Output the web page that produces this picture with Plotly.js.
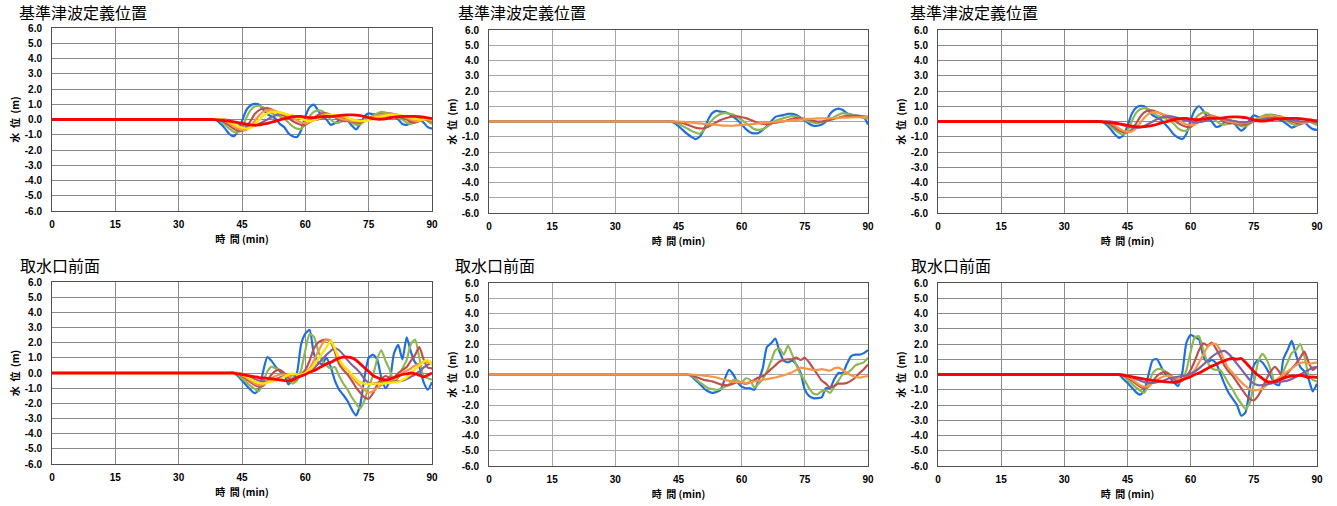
<!DOCTYPE html>
<html>
<head>
<meta charset="utf-8">
<script src="https://cdn.plot.ly/plotly-3.0.1.min.js"></script>
<style>html,body{margin:0;padding:0;background:#fff;}#chart{width:1337px;height:506px;}</style>
</head>
<body>
<div id="chart"></div>
<script>
// ---------- labels ----------
const titleTop = "基準津波定義位置";
const titleBottom = "取水口前面";
const xTitle = "時\u00a0\u00a0間\u00a0(min)";
const yTitle = "水\u00a0\u00a0位\u00a0\u00a0(m)";
const xTickVals = [0, 15, 30, 45, 60, 75, 90];
const xTickText = ["0", "15", "30", "45", "60", "75", "90"];
const yTickVals = [-6, -5, -4, -3, -2, -1, 0, 1, 2, 3, 4, 5, 6];
const yTickText = ["-6.0", "-5.0", "-4.0", "-3.0", "-2.0", "-1.0", "0.0", "1.0", "2.0", "3.0", "4.0", "5.0", "6.0"];

// ---------- panel 1 (top-left) ----------
const t1 = [0, 38, 39,
  40, 41, 42, 43, 44, 45, 46, 47, 48, 49,
  50, 51, 52, 53, 54, 55, 56, 57, 58, 59,
  60, 61, 62, 63, 64, 65, 66, 67, 68, 69,
  70, 71, 72, 73, 74, 75, 76, 77, 78, 79,
  80, 81, 82, 83, 84, 85, 86, 87, 88, 89,
  90];
const p1Blue = [0, 0, -0.05,
  -0.3, -0.6, -0.95, -1.1, -0.8, -0.1, 0.6, 0.92, 1.02, 0.98,
  0.65, 0.35, 0.2, 0.05, -0.3, -0.5, -0.9, -1.1, -1.15, -0.7,
  0.2, 0.8, 0.98, 0.6, 0.2, 0.0, -0.35, -0.25, -0.05, 0.05,
  -0.05, -0.4, -0.65, -0.3, 0.2, 0.4, 0.35, 0.35, 0.45, 0.4,
  0.3, 0.2, 0.0, -0.3, -0.35, -0.2, 0.0, 0.05, -0.2, -0.5,
  -0.6];
const p1Green = [0, 0, 0,
  -0.1, -0.35, -0.6, -0.8, -0.85, -0.55, 0.1, 0.6, 0.85, 0.9,
  0.8, 0.6, 0.4, 0.3, 0.2, 0.05, -0.2, -0.45, -0.6, -0.6,
  -0.3, 0.2, 0.5, 0.6, 0.55, 0.3, 0.0, -0.2, -0.2, -0.1,
  -0.1, -0.2, -0.35, -0.3, -0.1, 0.1, 0.25, 0.4, 0.5, 0.45,
  0.35, 0.2, 0.1, 0.0, -0.2, -0.3, -0.15, 0.0, 0.05, -0.1,
  -0.3];
const p1Brown = [0, 0, 0,
  -0.05, -0.2, -0.4, -0.6, -0.72, -0.75, -0.5, -0.1, 0.35, 0.6,
  0.72, 0.75, 0.65, 0.5, 0.35, 0.25, 0.1, -0.1, -0.25, -0.35,
  -0.35, -0.15, 0.1, 0.3, 0.4, 0.4, 0.3, 0.15, 0.0, -0.1,
  -0.1, -0.15, -0.2, -0.2, -0.1, 0.0, 0.1, 0.2, 0.3, 0.35,
  0.4, 0.35, 0.25, 0.1, 0.0, -0.15, -0.2, -0.1, 0.0, -0.05,
  -0.15];
const p1Purple = [0, 0, 0,
  0, 0, -0.05, -0.15, -0.25, -0.35, -0.4, -0.42, -0.4, -0.3,
  -0.15, 0.0, 0.15, 0.28, 0.35, 0.35, 0.3, 0.25, 0.15, 0.05,
  0.0, -0.05, -0.05, 0.0, 0.1, 0.15, 0.2, 0.2, 0.15, 0.1,
  0.05, 0.0, -0.05, -0.05, 0.0, 0.05, 0.1, 0.15, 0.2, 0.25,
  0.25, 0.25, 0.2, 0.15, 0.1, 0.05, 0.0, 0.0, 0.0, 0.0,
  -0.05];
const p1Orange = [0, 0, 0,
  0, -0.1, -0.25, -0.45, -0.6, -0.7, -0.68, -0.45, -0.1, 0.25,
  0.5, 0.6, 0.62, 0.55, 0.45, 0.35, 0.25, 0.1, -0.05, -0.2,
  -0.25, -0.2, 0.0, 0.15, 0.3, 0.35, 0.3, 0.2, 0.1, 0.0,
  -0.05, -0.1, -0.1, -0.1, -0.05, 0.05, 0.15, 0.25, 0.3, 0.35,
  0.35, 0.35, 0.3, 0.2, 0.1, 0.0, -0.1, -0.1, 0.0, 0.0,
  -0.1];
const p1Yellow = [0, 0, 0,
  0, -0.05, -0.15, -0.3, -0.45, -0.55, -0.6, -0.55, -0.35, -0.05,
  0.25, 0.4, 0.5, 0.5, 0.45, 0.4, 0.3, 0.25, 0.15, 0.05,
  -0.05, -0.1, -0.05, 0.05, 0.15, 0.25, 0.3, 0.3, 0.25, 0.2,
  0.1, 0.0, -0.05, -0.1, -0.1, -0.05, 0.05, 0.15, 0.2, 0.25,
  0.3, 0.3, 0.3, 0.25, 0.2, 0.1, 0.05, 0.0, 0.0, 0.05,
  0.0];
const p1Red = [0, 0, -0.02,
  -0.05, -0.08, -0.1, -0.15, -0.2, -0.25, -0.3, -0.35, -0.37, -0.35,
  -0.3, -0.25, -0.18, -0.1, -0.02, 0.05, 0.12, 0.18, 0.2, 0.2,
  0.15, 0.12, 0.12, 0.15, 0.18, 0.2, 0.2, 0.22, 0.25, 0.28,
  0.3, 0.3, 0.28, 0.25, 0.2, 0.12, 0.05, 0.02, 0.02, 0.05,
  0.1, 0.15, 0.18, 0.2, 0.2, 0.2, 0.2, 0.18, 0.15, 0.1,
  0.05];

// ---------- panel 2 (top-middle) ----------
const t2 = [0, 42, 43, 44, 45, 46, 47, 48, 49,
  50, 51, 52, 53, 54, 55, 56, 57, 58, 59,
  60, 61, 62, 63, 64, 65, 66, 67, 68, 69,
  70, 71, 72, 73, 74, 75, 76, 77, 78, 79,
  80, 81, 82, 83, 84, 85, 86, 87, 88, 89,
  90];
const p2Blue = [0, 0, 0, -0.1, -0.3, -0.55, -0.8, -1.0, -1.15,
  -1.0, -0.55, 0.1, 0.55, 0.7, 0.65, 0.62, 0.5, 0.3, 0.1,
  -0.2, -0.5, -0.7, -0.78, -0.75, -0.55, -0.3, 0.0, 0.3, 0.38,
  0.42, 0.5, 0.5, 0.42, 0.25, 0.05, -0.15, -0.28, -0.28, -0.2,
  0.0, 0.5, 0.75, 0.85, 0.75, 0.55, 0.45, 0.4, 0.38, 0.3,
  -0.2];
const p2Green = [0, 0, 0, -0.05, -0.15, -0.3, -0.45, -0.6, -0.72,
  -0.8, -0.55, -0.2, 0.1, 0.33, 0.5, 0.55, 0.52, 0.45, 0.3,
  0.1, -0.1, -0.3, -0.5, -0.55, -0.5, -0.35, -0.15, 0.05, 0.15,
  0.22, 0.3, 0.37, 0.32, 0.22, 0.1, 0.0, -0.08, -0.1, -0.05,
  0.05, 0.15, 0.3, 0.45, 0.55, 0.5, 0.45, 0.4, 0.3, 0.22,
  0.2];
const p2Brown = [0, 0, 0, 0, -0.05, -0.1, -0.2, -0.3, -0.4,
  -0.45, -0.45, -0.35, -0.2, -0.05, 0.1, 0.2, 0.28, 0.33, 0.33,
  0.28, 0.22, 0.12, 0.0, -0.1, -0.15, -0.15, -0.12, -0.08, -0.02,
  0.0, 0.1, 0.18, 0.22, 0.2, 0.17, 0.12, 0.05, 0.0, 0.0,
  0.05, 0.1, 0.18, 0.25, 0.33, 0.35, 0.37, 0.37, 0.35, 0.33,
  0.3];
const p2Orange = [0, 0, 0, 0, 0, -0.03, -0.05, -0.08, -0.1,
  -0.12, -0.15, -0.17, -0.2, -0.22, -0.25, -0.27, -0.28, -0.28, -0.25,
  -0.22, -0.2, -0.18, -0.15, -0.12, -0.1, -0.08, -0.05, -0.03, 0.0,
  0.02, 0.05, 0.08, 0.1, 0.12, 0.15, 0.17, 0.18, 0.2, 0.2,
  0.2, 0.22, 0.22, 0.23, 0.25, 0.25, 0.27, 0.28, 0.28, 0.3,
  0.3];

// ---------- panel 3 (top-right) ----------
const t3 = [0, 38, 39,
  40, 41, 42, 43, 44, 45, 46, 47, 48, 49,
  50, 51, 52, 53, 54, 55, 56, 57, 58, 59,
  60, 61, 62, 63, 64, 65, 66, 67, 68, 69,
  70, 71, 72, 73, 74, 75, 76, 77, 78, 79,
  80, 81, 82, 83, 84, 85, 86, 87, 88, 89,
  90];
const p3Blue = [0, 0, -0.02,
  -0.2, -0.5, -0.85, -1.08, -0.9, -0.3, 0.5, 0.9, 1.02, 1.0,
  0.7, 0.4, 0.25, 0.1, -0.2, -0.5, -0.85, -1.05, -1.15, -0.8,
  0.1, 0.75, 1.0, 0.7, 0.3, 0.0, -0.35, -0.3, -0.05, 0.05,
  0.0, -0.35, -0.6, -0.4, 0.1, 0.4, 0.3, 0.3, 0.4, 0.4,
  0.3, 0.15, 0.0, -0.2, -0.4, -0.3, -0.1, -0.05, -0.3, -0.5,
  -0.55];
const p3Green = [0, 0, 0,
  -0.08, -0.3, -0.55, -0.75, -0.85, -0.6, 0.0, 0.55, 0.8, 0.88,
  0.8, 0.6, 0.4, 0.3, 0.2, 0.05, -0.15, -0.45, -0.6, -0.6,
  -0.35, 0.15, 0.45, 0.6, 0.55, 0.3, 0.05, -0.15, -0.2, -0.15,
  -0.1, -0.2, -0.3, -0.3, -0.15, 0.05, 0.2, 0.35, 0.45, 0.45,
  0.4, 0.3, 0.15, 0.0, -0.15, -0.25, -0.2, -0.05, 0.0, -0.1,
  -0.25];
const p3Brown = [0, 0, 0,
  -0.05, -0.2, -0.4, -0.6, -0.7, -0.72, -0.55, -0.15, 0.3, 0.6,
  0.72, 0.72, 0.62, 0.5, 0.35, 0.25, 0.1, -0.1, -0.25, -0.35,
  -0.35, -0.15, 0.1, 0.28, 0.38, 0.38, 0.3, 0.15, 0.0, -0.1,
  -0.1, -0.15, -0.2, -0.2, -0.1, 0.0, 0.1, 0.2, 0.3, 0.35,
  0.38, 0.35, 0.25, 0.1, 0.0, -0.1, -0.15, -0.1, 0.0, -0.05,
  -0.1];
const p3Orange = [0, 0, 0,
  0, -0.1, -0.25, -0.45, -0.6, -0.68, -0.65, -0.45, -0.1, 0.25,
  0.5, 0.6, 0.6, 0.52, 0.42, 0.35, 0.25, 0.1, -0.05, -0.2,
  -0.25, -0.2, 0.0, 0.15, 0.28, 0.33, 0.3, 0.2, 0.1, 0.0,
  -0.05, -0.1, -0.12, -0.1, -0.05, 0.05, 0.15, 0.25, 0.3, 0.35,
  0.35, 0.32, 0.28, 0.2, 0.1, 0.0, -0.08, -0.1, -0.05, 0.0,
  -0.1];
const p3Purple = [0, 0, 0,
  0, 0, -0.05, -0.15, -0.25, -0.32, -0.38, -0.4, -0.38, -0.3,
  -0.15, 0.0, 0.15, 0.25, 0.32, 0.33, 0.3, 0.22, 0.12, 0.05,
  0.0, -0.05, -0.05, 0.0, 0.08, 0.15, 0.18, 0.2, 0.15, 0.1,
  0.05, 0.0, -0.05, -0.05, 0.0, 0.05, 0.1, 0.15, 0.2, 0.22,
  0.25, 0.22, 0.2, 0.15, 0.1, 0.05, 0.0, 0.0, 0.0, 0.0,
  -0.05];
const p3Red = [0, 0, -0.02,
  -0.05, -0.08, -0.1, -0.15, -0.2, -0.25, -0.3, -0.33, -0.35, -0.33,
  -0.3, -0.25, -0.18, -0.1, -0.02, 0.05, 0.12, 0.18, 0.2, 0.2,
  0.15, 0.12, 0.12, 0.15, 0.2, 0.22, 0.22, 0.22, 0.25, 0.28,
  0.3, 0.3, 0.28, 0.25, 0.18, 0.1, 0.05, 0.02, 0.05, 0.1,
  0.15, 0.15, 0.18, 0.2, 0.2, 0.2, 0.18, 0.15, 0.12, 0.08,
  0.05];

// ---------- panel 4 (bottom-left) ----------
const t4 = [0, 42, 43, 44, 45, 46, 47, 48, 49,
  50, 51, 52, 53, 54, 55, 56, 57, 58, 59,
  60, 61, 62, 63, 64, 65, 66, 67, 68, 69,
  70, 71, 72, 73, 74, 75, 76, 77, 78, 79,
  80, 81, 82, 83, 84, 85, 86, 87, 88, 89,
  90];
const p4Blue = [0, 0, 0, -0.2, -0.5, -0.8, -1.1, -1.33, -1.1,
  0.1, 1.05, 0.8, 0.4, 0.1, -0.1, -0.75, -0.4, 0.0, 1.9,
  2.6, 2.85, 1.3, 0.7, 0.6, 1.0, 0.4, -0.5, -1.1, -1.45,
  -1.85, -2.4, -2.8, -2.1, -0.3, 1.0, 1.2, 0.9, -0.3, -1.0,
  -0.5, 1.3, 1.85, 0.9, 2.35, 1.4, 0.7, 0.4, -0.6, -1.1,
  -0.6];
const p4Green = [0, 0, 0, -0.1, -0.35, -0.6, -0.85, -1.05, -1.2,
  -0.6, 0.1, 0.4, 0.3, 0.2, 0.0, -0.4, -0.7, -0.5, 0.2,
  1.5, 2.55, 2.4, 1.5, 0.8, 0.5, 0.3, 0.4, -0.2, -0.7,
  -1.1, -1.6, -2.0, -2.35, -1.8, -0.9, -0.2, 0.9, 1.5, 0.8,
  0.2, -0.6, -0.3, 0.3, 0.85, 1.9, 2.2, 1.0, -0.2, -0.35,
  -0.45];
const p4Brown = [0, 0, 0, -0.05, -0.2, -0.4, -0.6, -0.8, -0.9,
  -0.85, -0.5, -0.1, 0.15, 0.2, 0.0, -0.3, -0.5, -0.4, -0.1,
  0.2, 0.8, 1.6, 2.0, 2.15, 2.2, 2.05, 1.4, 0.6, 0.2,
  -0.1, -0.5, -0.95, -1.3, -1.6, -1.7, -1.35, -0.8, -0.4, -0.2,
  -0.3, -0.3, 0.0, 0.2, 0.4, 0.8, 1.2, 1.7, 0.9, 0.35,
  0.3];
const p4Purple = [0, 0, 0, 0, -0.05, -0.15, -0.3, -0.4, -0.5,
  -0.55, -0.55, -0.5, -0.4, -0.3, -0.2, -0.15, -0.1, -0.1, -0.1,
  0.0, 0.1, 0.3, 0.6, 0.9, 1.2, 1.45, 1.65, 1.5, 1.2,
  0.85, 0.55, 0.3, 0.0, -0.4, -0.65, -0.7, -0.65, -0.6, -0.55,
  -0.55, -0.55, -0.55, -0.5, -0.4, -0.25, -0.1, 0.1, 0.35, 0.55,
  0.65];
const p4Orange = [0, 0, 0, -0.05, -0.15, -0.3, -0.5, -0.7, -0.8,
  -0.75, -0.55, -0.35, -0.2, -0.1, -0.1, -0.2, -0.3, -0.35, -0.2,
  0.0, 0.3, 0.8, 1.4, 1.9, 2.2, 2.15, 1.6, 0.9, 0.4,
  0.2, -0.2, -0.6, -0.85, -1.1, -1.3, -1.2, -1.0, -0.8, -0.6,
  -0.5, -0.4, -0.2, 0.0, 0.15, 0.3, 0.5, 0.6, 0.7, 0.75,
  0.6];
const p4Yellow = [0, 0, 0, -0.03, -0.1, -0.25, -0.4, -0.55, -0.65,
  -0.7, -0.65, -0.55, -0.5, -0.4, -0.25, -0.1, -0.05, -0.1, -0.1,
  0.0, 0.2, 0.5, 0.9, 1.3, 1.7, 2.1, 1.6, 0.9, 0.5,
  0.2, -0.1, -0.4, -0.6, -0.7, -0.72, -0.7, -0.7, -0.7, -0.68,
  -0.65, -0.62, -0.6, -0.45, -0.3, 0.0, 0.25, 0.5, 0.75, 0.85,
  0.5];
const p4Red = [0, 0, 0, -0.05, -0.1, -0.15, -0.2, -0.25, -0.3,
  -0.33, -0.35, -0.38, -0.42, -0.46, -0.5, -0.52, -0.45, -0.3, -0.2,
  -0.1, 0.05, 0.15, 0.3, 0.45, 0.6, 0.7, 0.85, 0.98, 1.05,
  1.05, 1.0, 0.85, 0.6, 0.35, 0.1, -0.15, -0.3, -0.4, -0.45,
  -0.4, -0.3, -0.2, -0.1, -0.05, 0.0, -0.05, -0.15, -0.25, -0.15,
  0.0];

// ---------- panel 5 (bottom-middle) ----------
const t5 = [0, 46, 47, 48, 49,
  50, 51, 52, 53, 54, 55, 56, 57, 58, 59,
  60, 61, 62, 63, 64, 65, 66, 67, 68, 69,
  70, 71, 72, 73, 74, 75, 76, 77, 78, 79,
  80, 81, 82, 83, 84, 85, 86, 87, 88, 89,
  90];
const p5Blue = [0, 0, 0, -0.1, -0.35,
  -0.6, -0.9, -1.1, -1.2, -1.15, -1.0, -0.3, 0.3, 0.0, -0.5,
  -0.8, -0.9, -0.9, -1.0, -0.4, 0.4, 1.8, 2.05, 2.35, 1.5,
  0.9, 0.8, 0.9, 0.65, 0.1, -1.0, -1.4, -1.55, -1.55, -1.5,
  -0.9, -0.9, -0.3, 0.1, 0.1, 0.7, 1.2, 1.3, 1.3, 1.4,
  1.6];
const p5Green = [0, 0, 0, -0.05, -0.25,
  -0.5, -0.7, -0.88, -0.95, -1.0, -0.95, -0.8, -0.65, -0.35, -0.4,
  -0.5, -0.25, -0.35, -0.85, -0.6, -0.3, 0.2, 0.9, 1.6, 1.7,
  1.3, 1.9, 1.3, 0.6, 0.0, -0.4, -0.9, -1.25, -1.3, -1.1,
  -1.05, -1.2, -0.8, -0.4, 0.0, 0.1, 0.3, 0.6, 0.7, 0.8,
  1.1];
const p5Brown = [0, 0, 0, -0.05, -0.15,
  -0.25, -0.35, -0.4, -0.45, -0.55, -0.65, -0.7, -0.7, -0.6, -0.5,
  -0.55, -0.6, -0.5, -0.35, -0.2, -0.1, 0.1, 0.35, 0.6, 0.85,
  0.95, 1.0, 1.0, 1.1, 0.95, 1.1, 0.8, 0.4, 0.0, -0.4,
  -0.6, -0.85, -0.75, -0.6, -0.6, -0.55, -0.4, -0.2, 0.1, 0.35,
  0.65];
const p5Orange = [0, 0, 0, 0, -0.02,
  -0.05, -0.08, -0.1, -0.15, -0.2, -0.28, -0.35, -0.42, -0.48, -0.5,
  -0.52, -0.55, -0.5, -0.45, -0.4, -0.35, -0.3, -0.25, -0.2, -0.12,
  -0.05, 0.05, 0.15, 0.3, 0.45, 0.4, 0.35, 0.3, 0.3, 0.35,
  0.3, 0.25, 0.4, 0.45, 0.3, 0.1, -0.05, -0.15, -0.2, -0.15,
  -0.1];

// ---------- panel 6 (bottom-right) ----------
const t6 = [0, 42, 43, 44, 45, 46, 47, 48, 49,
  50, 51, 52, 53, 54, 55, 56, 57, 58, 59,
  60, 61, 62, 63, 64, 65, 66, 67, 68, 69,
  70, 71, 72, 73, 74, 75, 76, 77, 78, 79,
  80, 81, 82, 83, 84, 85, 86, 87, 88, 89,
  90];
const p6Blue = [0, 0, 0, -0.3, -0.55, -0.85, -1.15, -1.32, -1.05,
  0.0, 0.95, 1.0, 0.5, 0.05, -0.2, -0.5, -0.75, 0.1, 2.1,
  2.6, 2.45, 2.3, 1.2, 0.8, 0.95, 0.75, 0.1, -0.6, -1.2,
  -1.6, -2.0, -2.7, -2.5, -1.0, 0.6, 0.95, 0.8, 0.4, -0.1,
  -0.6, -0.7, 1.0, 1.6, 2.2, 1.3, 0.5, 0.2, -0.3, -1.1,
  -0.6];
const p6Green = [0, 0, 0, -0.1, -0.35, -0.6, -0.85, -1.05, -1.2,
  -0.6, 0.1, 0.35, 0.35, 0.2, 0.0, -0.3, -0.55, -0.4, 0.3,
  1.5, 2.45, 2.5, 1.6, 0.8, 0.4, 0.3, 0.3, -0.1, -0.6,
  -1.0, -1.5, -1.9, -2.25, -1.9, -0.6, 0.8, 1.35, 1.0, 0.3,
  -0.5, -0.4, 0.2, 0.8, 1.4, 1.6, 2.0, 1.2, 0.0, -0.35,
  -0.45];
const p6Brown = [0, 0, 0, -0.05, -0.2, -0.4, -0.6, -0.8, -0.9,
  -0.8, -0.45, -0.1, 0.1, 0.15, 0.0, -0.25, -0.45, -0.4, -0.1,
  0.3, 0.9, 1.6, 2.05, 1.9, 2.1, 1.7, 1.2, 0.6, 0.2,
  -0.1, -0.5, -0.9, -1.3, -1.6, -1.7, -1.4, -0.9, -0.3, 0.2,
  0.5, 0.2, -0.2, 0.1, 0.4, 0.7, 1.1, 1.5, 0.8, 0.3,
  0.5];
const p6Orange = [0, 0, 0, -0.05, -0.15, -0.3, -0.5, -0.7, -0.8,
  -0.75, -0.55, -0.35, -0.2, -0.1, -0.1, -0.2, -0.3, -0.3, -0.2,
  0.0, 0.3, 0.8, 1.3, 1.8, 2.0, 2.0, 1.6, 0.9, 0.4,
  0.1, -0.2, -0.5, -0.75, -0.95, -1.05, -1.0, -0.95, -0.7, -0.5,
  -0.4, -0.2, 0.0, 0.2, 0.4, 0.6, 0.75, 0.8, 0.7, 0.75,
  0.8];
const p6Purple = [0, 0, 0, 0, -0.05, -0.15, -0.3, -0.4, -0.5,
  -0.55, -0.55, -0.5, -0.45, -0.35, -0.25, -0.2, -0.15, -0.1, -0.05,
  0.05, 0.2, 0.4, 0.65, 0.9, 1.15, 1.35, 1.5, 1.55, 1.35,
  1.05, 0.7, 0.35, 0.0, -0.35, -0.6, -0.7, -0.7, -0.65, -0.6,
  -0.55, -0.5, -0.45, -0.4, -0.3, -0.15, 0.0, 0.15, 0.3, 0.45,
  0.5];
const p6Red = [0, 0, 0, -0.05, -0.1, -0.15, -0.2, -0.25, -0.3,
  -0.35, -0.38, -0.42, -0.45, -0.48, -0.5, -0.52, -0.48, -0.35, -0.25,
  -0.15, 0.0, 0.1, 0.25, 0.4, 0.55, 0.65, 0.8, 0.9, 1.0,
  1.05, 1.0, 1.05, 0.8, 0.5, 0.2, -0.05, -0.25, -0.45, -0.5,
  -0.45, -0.35, -0.25, -0.15, -0.1, -0.1, -0.05, -0.1, -0.2, -0.15,
  -0.2];

// ---------- styling ----------
const C = {blue: "#1f6fdc", green: "#8fb852", brown: "#c0504d", purple: "#8064a2",
           orange: "#f79646", yellow: "#ffe600", red: "#ff0000"};

function line(ax, x, y, color, width) {
  return {x: x, y: y, type: "scatter", mode: "lines", xaxis: "x" + ax, yaxis: "y" + ax,
          line: {color: color, width: width, shape: "spline", smoothing: 0.6},
          hoverinfo: "skip", showlegend: false};
}

const traces = [
  line("", t1, p1Blue, C.blue, 2.2), line("", t1, p1Green, C.green, 2.2), line("", t1, p1Brown, C.brown, 2.2),
  line("", t1, p1Purple, C.purple, 2.2), line("", t1, p1Orange, C.orange, 2.2), line("", t1, p1Yellow, C.yellow, 2.4),
  line("", t1, p1Red, C.red, 2.8),
  line("2", t2, p2Blue, C.blue, 2.2), line("2", t2, p2Green, C.green, 2.2), line("2", t2, p2Brown, C.brown, 2.2),
  line("2", t2, p2Orange, C.orange, 2.2),
  line("3", t3, p3Blue, C.blue, 2.2), line("3", t3, p3Green, C.green, 2.2), line("3", t3, p3Brown, C.brown, 2.2),
  line("3", t3, p3Orange, C.orange, 2.2), line("3", t3, p3Purple, C.purple, 2.2), line("3", t3, p3Red, C.red, 2.8),
  line("4", t4, p4Blue, C.blue, 2.2), line("4", t4, p4Green, C.green, 2.2), line("4", t4, p4Brown, C.brown, 2.2),
  line("4", t4, p4Purple, C.purple, 2.2), line("4", t4, p4Orange, C.orange, 2.2), line("4", t4, p4Yellow, C.yellow, 2.4),
  line("4", t4, p4Red, C.red, 2.8),
  line("5", t5, p5Blue, C.blue, 2.2), line("5", t5, p5Green, C.green, 2.2), line("5", t5, p5Brown, C.brown, 2.2),
  line("5", t5, p5Orange, C.orange, 2.2),
  line("6", t6, p6Blue, C.blue, 2.2), line("6", t6, p6Green, C.green, 2.2), line("6", t6, p6Brown, C.brown, 2.2),
  line("6", t6, p6Orange, C.orange, 2.2), line("6", t6, p6Purple, C.purple, 2.2), line("6", t6, p6Red, C.red, 2.8)
];

const W = 1337, H = 506;
// plot rectangles in pixels [left, right, top, bottom]
const boxes = [[52, 432, 28, 211], [489, 868, 30, 213], [938, 1317, 30, 213],
               [52, 432, 282, 464], [489, 868, 283, 466], [938, 1317, 283, 466]];
const gridCols = ["#8a8a8a", "#a6a6a6", "#8a8a8a", "#8a8a8a", "#a6a6a6", "#8a8a8a"];
const tickFont = {family: "Liberation Sans, Arial, sans-serif", size: 10, color: "#000", weight: "bold"};
const axTitleFont = {family: "Noto Sans CJK JP, sans-serif", size: 10, color: "#000", weight: "bold"};

const layout = {width: W, height: H, margin: {l: 0, r: 0, t: 0, b: 0},
  paper_bgcolor: "#fff", plot_bgcolor: "#fff", showlegend: false, annotations: []};

boxes.forEach((b, i) => {
  const s = i === 0 ? "" : String(i + 1);
  layout["xaxis" + s] = {domain: [b[0] / W, b[1] / W], anchor: "y" + s, range: [0, 90],
    tickmode: "array", tickvals: xTickVals, ticktext: xTickText, ticks: "", ticklabelstandoff: 4,
    showgrid: true, gridcolor: gridCols[i], gridwidth: 1, zeroline: false,
    showline: true, linecolor: "#505050", linewidth: 1, mirror: true, fixedrange: true,
    tickfont: tickFont, title: {text: xTitle, font: axTitleFont, standoff: 6}};
  layout["yaxis" + s] = {domain: [1 - b[3] / H, 1 - b[2] / H], anchor: "x" + s, range: [-6, 6],
    tickmode: "array", tickvals: yTickVals, ticktext: yTickText, ticks: "", ticklabelstandoff: 7,
    showgrid: true, gridcolor: gridCols[i], gridwidth: 1, zeroline: false,
    showline: true, linecolor: "#505050", linewidth: 1, mirror: true, fixedrange: true,
    tickfont: tickFont, title: {text: yTitle, font: axTitleFont, standoff: 3}};
});

const titlePos = [[17, 12, titleTop], [456, 12, titleTop], [908, 12, titleTop],
                  [18, 265, titleBottom], [453, 265, titleBottom], [909, 265, titleBottom]];
titlePos.forEach(p => {
  layout.annotations.push({xref: "paper", yref: "paper", x: p[0] / W, y: 1 - p[1] / H,
    xanchor: "left", yanchor: "middle", showarrow: false, text: p[2],
    font: {family: "Noto Sans CJK JP, sans-serif", size: 16, color: "#000"}});
});

Plotly.newPlot("chart", traces, layout, {staticPlot: true, displayModeBar: false});
</script>
</body>
</html>
